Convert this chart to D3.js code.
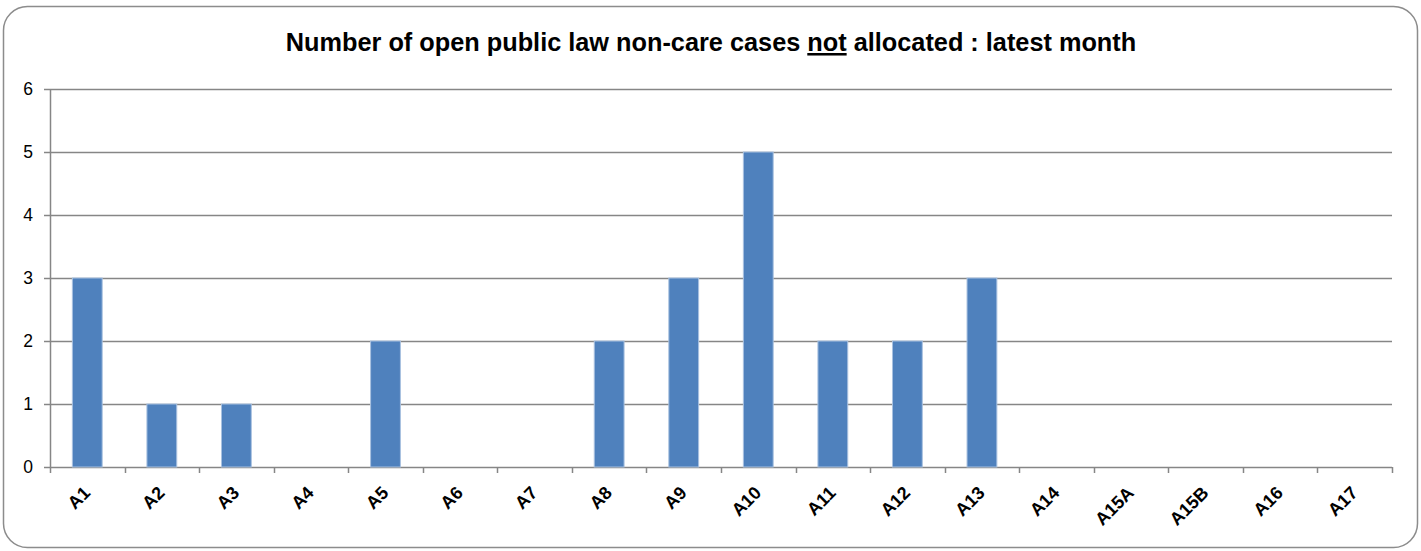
<!DOCTYPE html>
<html lang="en">
<head>
    <meta charset="UTF-8">
    <title>Open public law non-care cases not allocated</title>
    <script src="https://cdn.jsdelivr.net/npm/d3@7"></script>
    <style>
        body { margin: 0; background: #fff; }
        text { font-family: "Liberation Sans", Arial, sans-serif; }
    </style>
</head>
<body>
    <div id="graphic"></div>
    <script>
        // Data
        var areas = ['A1', 'A2', 'A3', 'A4', 'A5', 'A6', 'A7', 'A8', 'A9', 'A10',
                     'A11', 'A12', 'A13', 'A14', 'A15A', 'A15B', 'A16', 'A17'];
        var notAllocated = [3, 1, 1, 0, 2, 0, 0, 2, 3, 5, 2, 2, 3, 0, 0, 0, 0, 0];
        var yTicks = [0, 1, 2, 3, 4, 5, 6];

        var width = 1421;
        var height = 551;
        var margin = { left: 50, right: 29, top: 89, bottom: 84 };

        var svg = d3.select('#graphic')
                    .append('svg')
                    .attr('width', width)
                    .attr('height', height);

        // Outer frame
        svg.append('rect')
            .attr('x', 3.5).attr('y', 6.5)
            .attr('width', width - 7).attr('height', height - 10)
            .attr('rx', 24).attr('ry', 24)
            .attr('fill', '#fff')
            .attr('stroke', '#8c8c8c')
            .attr('stroke-width', 1.5);

        // Title
        var title = svg.append('text')
            .attr('x', 711).attr('y', 51)
            .attr('text-anchor', 'middle')
            .attr('font-size', 25.3)
            .attr('font-weight', 'bold')
            .attr('fill', '#000');
        title.append('tspan').text('Number of open public law non-care cases ');
        title.append('tspan').attr('text-decoration', 'underline').text('not');
        title.append('tspan').text(' allocated : latest month');

        var x = d3.scaleBand()
            .domain(areas)
            .range([margin.left, width - margin.right])
            .paddingInner(0.6)
            .paddingOuter(0.3);

        var y = d3.scaleLinear()
            .domain([0, 6])
            .range([height - margin.bottom, margin.top]);

        // Gridlines
        svg.append('g')
            .selectAll('line')
            .data(yTicks)
            .join('line')
            .attr('x1', margin.left - 6)
            .attr('x2', width - margin.right)
            .attr('y1', d => Math.round(y(d)) + 0.5)
            .attr('y2', d => Math.round(y(d)) + 0.5)
            .attr('stroke', '#868686')
            .attr('stroke-width', 1.5);

        // Y labels
        svg.append('g')
            .selectAll('text')
            .data(yTicks)
            .join('text')
            .attr('x', 33)
            .attr('y', d => y(d) + 6)
            .attr('text-anchor', 'end')
            .attr('font-size', 17.5)
            .attr('fill', '#000')
            .text(d => d);

        // Bars
        svg.append('g')
            .selectAll('rect')
            .data(notAllocated.map((v, i) => ({ area: areas[i], value: v })))
            .join('rect')
            .attr('x', d => x(d.area))
            .attr('y', d => y(d.value))
            .attr('width', x.bandwidth())
            .attr('height', d => y(0) - y(d.value))
            .attr('fill', '#4f81bd')
            .attr('stroke', '#a9c1e0')
            .attr('stroke-width', 1);

        // Y axis line
        svg.append('line')
            .attr('x1', margin.left + 0.5).attr('x2', margin.left + 0.5)
            .attr('y1', y(6)).attr('y2', y(0))
            .attr('stroke', '#868686')
            .attr('stroke-width', 1.5);

        // X axis ticks at band boundaries
        var bounds = d3.range(areas.length + 1).map(i => margin.left + i * (width - margin.right - margin.left) / areas.length);
        svg.append('g')
            .selectAll('line')
            .data(bounds)
            .join('line')
            .attr('x1', d => Math.round(d) + 0.5)
            .attr('x2', d => Math.round(d) + 0.5)
            .attr('y1', y(0))
            .attr('y2', y(0) + 6)
            .attr('stroke', '#868686')
            .attr('stroke-width', 1.5);

        // X labels, rotated
        svg.append('g')
            .selectAll('text')
            .data(areas)
            .join('text')
            .attr('transform', d => 'translate(' + (x(d) + x.bandwidth() / 2 + 4) + ',' + (y(0) + 27) + ') rotate(-45)')
            .attr('text-anchor', 'end')
            .attr('font-size', 18)
            .attr('font-weight', 'bold')
            .attr('fill', '#000')
            .text(d => d);
    </script>
</body>
</html>
